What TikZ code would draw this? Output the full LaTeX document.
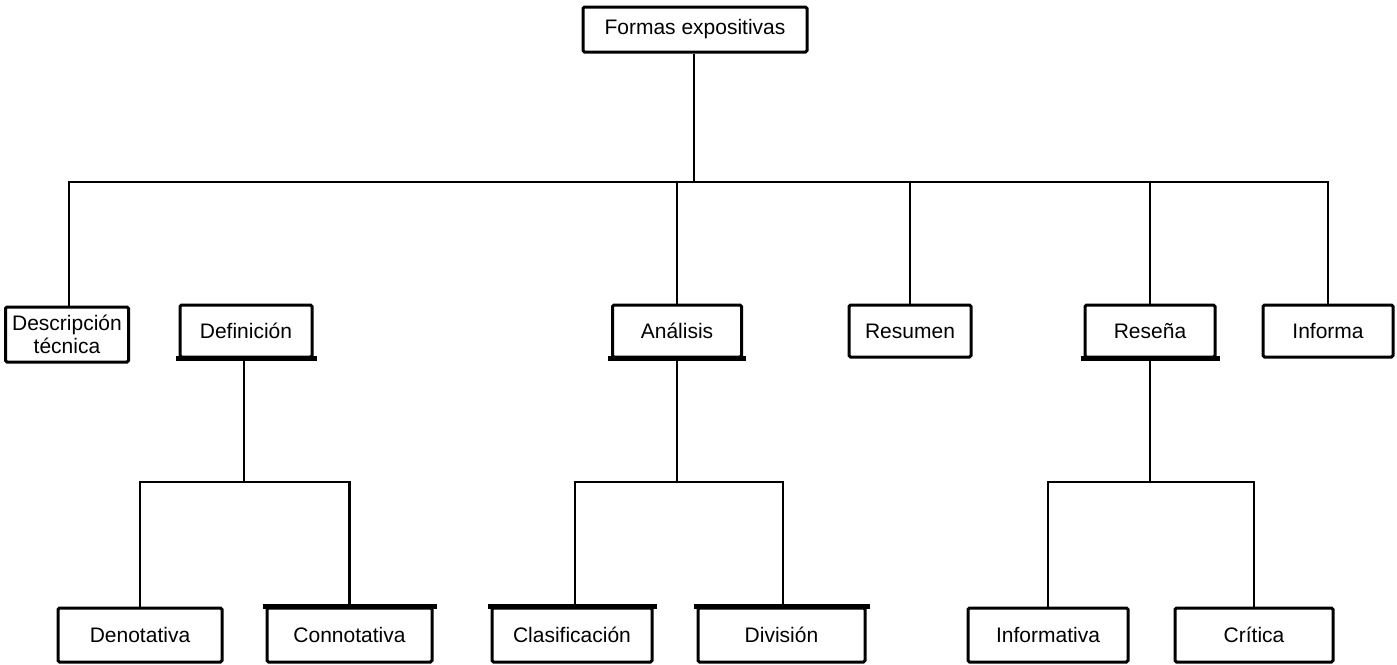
\documentclass[tikz,border=0pt]{standalone}
\usepackage{fontspec}
\setmainfont{Liberation Sans}
\newcommand\diagfont{\fontsize{21}{25}\selectfont}
\tikzset{
  box/.style={draw, line width=3pt, rounded corners=1.5pt, inner sep=0pt,
              align=center, font=\diagfont, minimum height=52pt},
  lowbox/.style={box, minimum height=54pt},
  link/.style={line width=2.4pt},
  bar/.style={line width=4.5pt},
}
\begin{document}
\begin{tikzpicture}[x=1pt, y=-1pt]
  \useasboundingbox (0,0) rectangle (1397,664);

  % root
  \node[box, minimum width=224pt, minimum height=45pt] (formas) at (695,29.5) {Formas expositivas};

  % first level
  \node[box, minimum width=123pt, minimum height=55pt] (desc) at (67,334.5) {Descripción\\[-2pt]técnica};
  \node[box, minimum width=132pt] (defin)   at (246,331)  {Definición};
  \node[box, minimum width=129pt] (analis)  at (677,331)  {Análisis};
  \node[box, minimum width=122pt] (resumen) at (910,331)  {Resumen};
  \node[box, minimum width=130pt] (resena)  at (1150,331) {Reseña};
  \node[box, minimum width=130pt] (informa) at (1328,331) {Informa};

  % second level
  \node[lowbox, minimum width=164pt] (denot)  at (140,635)    {Denotativa};
  \node[lowbox, minimum width=165pt] (connot) at (349.5,635)  {Connotativa};
  \node[lowbox, minimum width=160pt] (clasif) at (572,635)    {Clasificación};
  \node[lowbox, minimum width=167pt] (divis)  at (781.5,635)  {División};
  \node[lowbox, minimum width=160pt] (inform) at (1048,635)   {Informativa};
  \node[lowbox, minimum width=158pt] (critica) at (1254,635)  {Crítica};

  % heavy rules under / over some boxes
  \draw[bar] ([xshift=-3pt]defin.south west)  -- ([xshift=3pt]defin.south east);
  \draw[bar] ([xshift=-3pt]analis.south west) -- ([xshift=3pt]analis.south east);
  \draw[bar] ([xshift=-3pt]resena.south west) -- ([xshift=3pt]resena.south east);
  \draw[bar] ([xshift=-3pt]connot.north west) -- ([xshift=3pt]connot.north east);
  \draw[bar] ([xshift=-3pt]clasif.north west) -- ([xshift=3pt]clasif.north east);
  \draw[bar] ([xshift=-3pt]divis.north west)  -- ([xshift=3pt]divis.north east);

  % junction points
  \coordinate (j0) at (694,182);
  \coordinate (j1) at (244,482);
  \coordinate (j2) at (677,482);
  \coordinate (j3) at (1150,482);

  % root to first level
  \draw[link] (formas.south -| j0) -- (j0);
  \draw[link] ([xshift=2pt]desc.north) |- (j0) -| (informa.north);
  \draw[link] (defin.north -| j1) -- (defin.north -| j1 |- j0);
  \draw[link] (analis.north) -- (analis.north |- j0);
  \draw[link] (resumen.north) -- (resumen.north |- j0);
  \draw[link] (resena.north) -- (resena.north |- j0);

  % Definición branch
  \draw[link] (defin.south -| j1) -- (j1);
  \draw[link] (denot.north) |- (j1) -| (connot.north);

  % Análisis branch
  \draw[link] (analis.south) -- (j2);
  \draw[link] ([xshift=3pt]clasif.north) |- (j2) -| ([xshift=1.5pt]divis.north);

  % Reseña branch
  \draw[link] (resena.south) -- (j3);
  \draw[link] (inform.north) |- (j3) -| (critica.north);
\end{tikzpicture}
\end{document}
